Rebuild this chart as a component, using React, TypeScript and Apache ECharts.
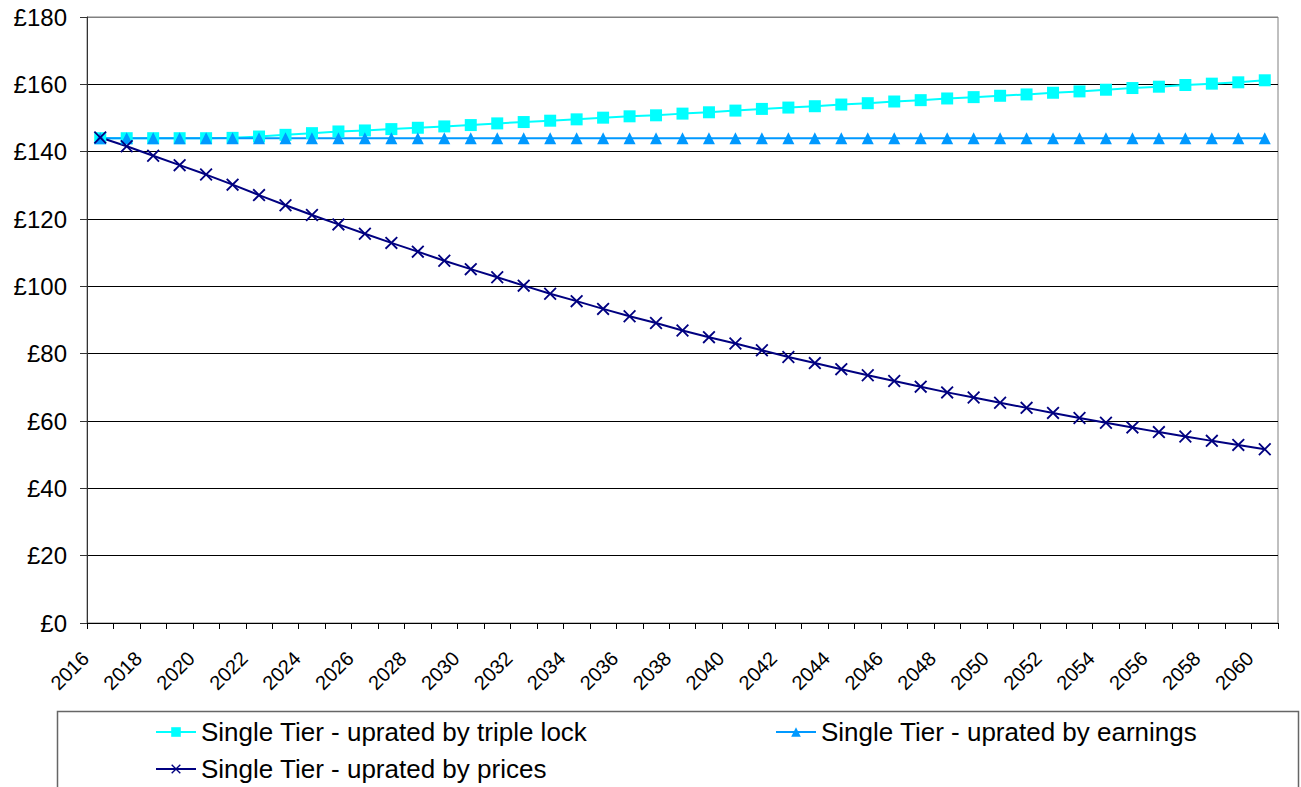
import React, { useEffect, useRef } from 'react';
import * as echarts from 'echarts';

const years = [
  '2016', '2017', '2018', '2019', '2020', '2021', '2022', '2023', '2024', '2025',
  '2026', '2027', '2028', '2029', '2030', '2031', '2032', '2033', '2034', '2035',
  '2036', '2037', '2038', '2039', '2040', '2041', '2042', '2043', '2044', '2045',
  '2046', '2047', '2048', '2049', '2050', '2051', '2052', '2053', '2054', '2055',
  '2056', '2057', '2058', '2059', '2060',
];

const tripleLock = [
  144.0, 144.0, 144.0, 144.0, 144.0, 144.1, 144.5, 145.0, 145.5, 146.0,
  146.3, 146.7, 147.1, 147.5, 147.9, 148.4, 148.8, 149.2, 149.6, 150.1,
  150.5, 150.8, 151.3, 151.7, 152.2, 152.7, 153.1, 153.5, 154.0, 154.4,
  154.9, 155.3, 155.8, 156.2, 156.6, 157.0, 157.5, 157.9, 158.4, 158.9,
  159.3, 159.8, 160.2, 160.6, 161.2,
];

const earnings = [
  144, 144, 144, 144, 144, 144, 144, 144, 144, 144,
  144, 144, 144, 144, 144, 144, 144, 144, 144, 144,
  144, 144, 144, 144, 144, 144, 144, 144, 144, 144,
  144, 144, 144, 144, 144, 144, 144, 144, 144, 144,
  144, 144, 144, 144, 144,
];

const prices = [
  144.2, 141.6, 138.8, 136.0, 133.2, 130.2, 127.1, 124.1, 121.2, 118.4,
  115.6, 112.9, 110.3, 107.6, 105.1, 102.7, 100.2, 97.8, 95.6, 93.3,
  91.1, 89.1, 86.9, 84.9, 83.0, 81.0, 79.0, 77.2, 75.4, 73.6,
  71.9, 70.2, 68.5, 67.0, 65.4, 63.9, 62.4, 60.9, 59.5, 58.1,
  56.7, 55.4, 54.1, 52.9, 51.6,
];

const seriesNames = [
  'Single Tier - uprated by triple lock',
  'Single Tier - uprated by earnings',
  'Single Tier - uprated by prices',
];

const FONT = '"Liberation Sans", Arial, sans-serif';
const CROSS = 'path://M0,1L1,0L5,4L9,0L10,1L6,5L10,9L9,10L5,6L1,10L0,9L4,5Z';

const legendBox = (name: string, left: number, top: number) => ({
  data: [name],
  left,
  top,
  itemWidth: 40,
  itemHeight: 12,
  padding: 0,
  selectedMode: false,
  textStyle: { fontFamily: FONT, fontSize: 26, color: '#000' },
});

const App: React.FC = () => {
  const chartRef = useRef<HTMLDivElement>(null);

  useEffect(() => {
    document.body.style.margin = '0';
    const chart = echarts.init(chartRef.current!, undefined, { renderer: 'svg' });

    const gridColors = ['#000', '#000', '#000', '#000', '#000', '#000', '#000', '#000', '#000', '#808080'];

    chart.setOption({
      animation: false,
      backgroundColor: '#fff',
      grid: {
        left: 87,
        right: 23,
        top: 17,
        bottom: 164,
        show: true,
        borderColor: '#808080',
        borderWidth: 1,
      },
      graphic: [
        {
          type: 'rect',
          shape: { x: 57.5, y: 711.5, width: 1241, height: 100 },
          style: { fill: 'none', stroke: '#666', lineWidth: 1.5 },
          silent: true,
        },
      ],
      legend: [
        legendBox(seriesNames[0], 155, 719),
        legendBox(seriesNames[1], 775, 719),
        legendBox(seriesNames[2], 155, 756),
      ],
      xAxis: {
        type: 'category',
        data: years,
        boundaryGap: true,
        axisLine: { lineStyle: { color: '#000', width: 1 } },
        axisTick: { show: true, interval: 0, length: 6, lineStyle: { color: '#000' } },
        axisLabel: {
          interval: 1,
          rotate: 45,
          margin: 17,
          padding: [0, 21, 0, 0],
          fontFamily: FONT,
          fontSize: 20,
          color: '#000',
        },
        splitLine: { show: false },
      },
      yAxis: {
        type: 'value',
        min: 0,
        max: 180,
        interval: 20,
        axisLine: { show: true, lineStyle: { color: '#333', width: 1 } },
        axisTick: { show: true, length: 7, lineStyle: { color: '#333' } },
        axisLabel: {
          formatter: '£{value}',
          margin: 20,
          fontFamily: FONT,
          fontSize: 24,
          color: '#000',
        },
        splitLine: { show: true, lineStyle: { color: gridColors, width: 1 } },
      },
      series: [
        {
          name: seriesNames[0],
          type: 'line',
          data: tripleLock,
          symbol: 'rect',
          symbolSize: 12,
          itemStyle: { color: '#00FFFF' },
          lineStyle: { color: '#00FFFF', width: 2 },
        },
        {
          name: seriesNames[1],
          type: 'line',
          data: earnings,
          symbol: 'triangle',
          symbolSize: 12,
          itemStyle: { color: '#0099FF' },
          lineStyle: { color: '#0099FF', width: 2 },
        },
        {
          name: seriesNames[2],
          type: 'line',
          data: prices,
          symbol: CROSS,
          symbolSize: 13,
          itemStyle: { color: '#000080' },
          lineStyle: { color: '#000080', width: 2 },
        },
      ],
    });

    return () => {
      chart.dispose();
    };
  }, []);

  return <div ref={chartRef} style={{ width: '1301px', height: '787px' }} />;
};

export default App;
